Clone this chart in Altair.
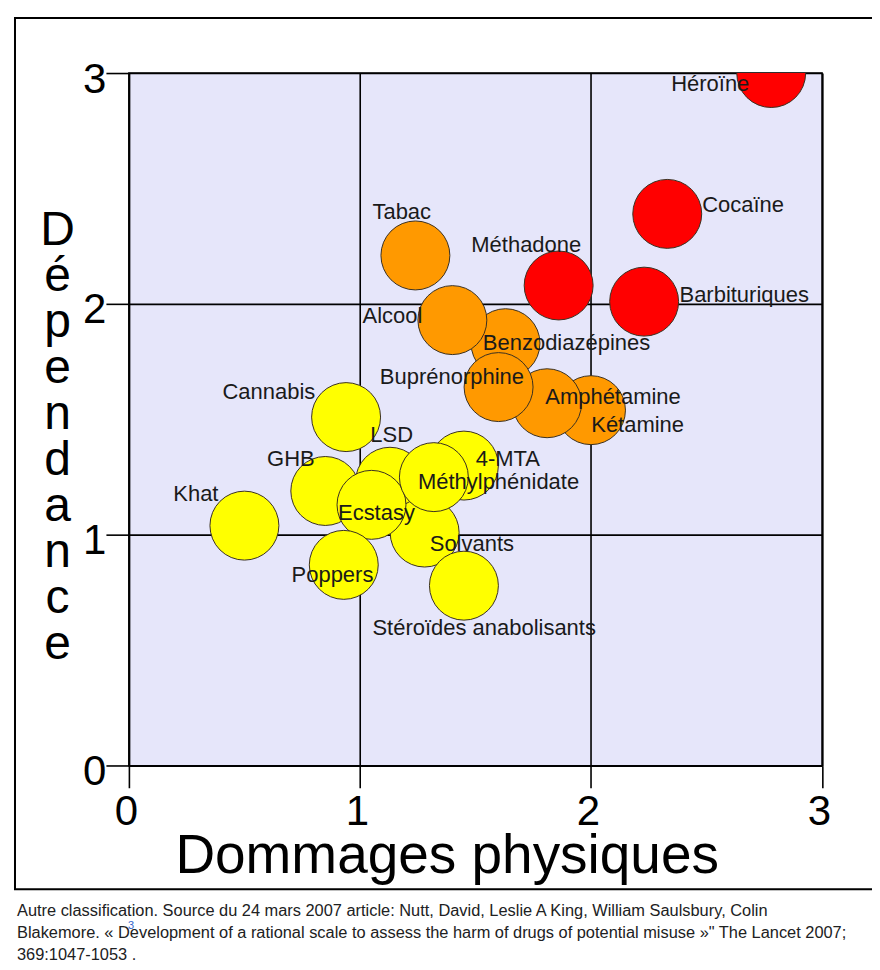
import altair as alt
import pandas as pd

# ---- data ----
drogues = ["Kétamine", "Amphétamine", "Benzodiazépines", "Buprénorphine", "Alcool",
           "Tabac", "Méthadone", "Barbituriques", "Cocaïne", "Héroïne",
           "Cannabis", "Khat", "GHB", "LSD", "4-MTA",
           "Solvants", "Ecstasy", "Méthylphénidate", "Poppers", "Stéroïdes anabolisants"]
dommages = [2.00, 1.81, 1.63, 1.60, 1.40,
            1.24, 1.86, 2.23, 2.33, 2.78,
            0.94, 0.50, 0.85, 1.13, 1.45,
            1.28, 1.05, 1.32, 0.93, 1.45]
dependance = [1.54, 1.57, 1.83, 1.64, 1.93,
              2.21, 2.08, 2.01, 2.39, 3.00,
              1.51, 1.04, 1.19, 1.23, 1.30,
              1.01, 1.13, 1.25, 0.87, 0.78]
groupes = ["orange", "orange", "orange", "orange", "orange",
           "orange", "rouge", "rouge", "rouge", "rouge",
           "jaune", "jaune", "jaune", "jaune", "jaune",
           "jaune", "jaune", "jaune", "jaune", "jaune"]
# label anchor (left end of text, baseline) in data units
label_x = [2.001, 1.802, 1.532, 1.086, 1.011,
           1.054, 1.482, 2.383, 2.481, 2.347,
           0.405, 0.192, 0.598, 1.045, 1.501,
           1.302, 0.905, 1.251, 0.704, 1.054]
label_y = [1.447, 1.566, 1.800, 1.653, 1.918,
           2.370, 2.225, 2.009, 2.399, 2.922,
           1.587, 1.148, 1.298, 1.403, 1.298,
           0.932, 1.064, 1.197, 0.797, 0.567]
ticks = [0, 1, 2, 3]
caption = [
    "Autre classification. Source du 24 mars 2007 article: Nutt, David, Leslie A King, William Saulsbury, Colin",
    "Blakemore. « Development of a rational scale to assess the harm of drugs of potential misuse »\" The Lancet 2007;",
    "369:1047-1053   .",
]
note_ref = "3"
y_title = list("Dépendance")

df = pd.DataFrame({
    "drogue": drogues, "dommages": dommages, "dependance": dependance,
    "groupe": groupes, "lx": label_x, "ly": label_y,
})

FONT = "Liberation Sans"
W, H = 693.7, 693.3

xscale = alt.Scale(domain=[0, 3], nice=False, zero=False)
yscale = alt.Scale(domain=[0, 3], nice=False, zero=False)

common_axis = dict(
    values=ticks, format="d", grid=True, gridColor="black", gridWidth=1.6,
    domainColor="black", domainWidth=1.6, tickColor="black", tickWidth=1.6,
    labelFont=FONT, labelFontSize=42, labelColor="black",
    labelFlush=False, labelOverlap=False,
    titleFont=FONT, titleFontWeight="normal", titleColor="black",
)

x_axis = alt.Axis(
    **common_axis, tickSize=22, labelPadding=4, labelOffset=-3,
    title="Dommages physiques", titleFontSize=55,
    titleX=318, titleY=107, titleBaseline="alphabetic", titleAlign="center",
)
y_axis = alt.Axis(
    **common_axis, tickSize=23, labelPadding=0, labelBaseline="alphabetic", labelOffset=19,
    title=y_title, titleFontSize=48, titleLineHeight=46, titleAngle=0,
    titleX=-72, titleY=172, titleBaseline="alphabetic", titleAlign="center",
)

one = pd.DataFrame({"k": [0]})

points = alt.Chart(df).mark_circle(
    size=4761, opacity=1, stroke="#3a3020", strokeWidth=1, clip=True
).encode(
    x=alt.X("dommages:Q", scale=xscale, axis=x_axis),
    y=alt.Y("dependance:Q", scale=yscale, axis=y_axis),
    color=alt.Color("groupe:N",
                    scale=alt.Scale(domain=["rouge", "orange", "jaune"],
                                    range=["#ff0000", "#ff9900", "#ffff00"]),
                    legend=None),
)

labels = alt.Chart(df).mark_text(
    align="left", baseline="alphabetic", font=FONT, fontSize=22, color="#1a1a1a"
).encode(
    x=alt.X("lx:Q", scale=xscale, axis=x_axis),
    y=alt.Y("ly:Q", scale=yscale, axis=y_axis),
    text="drogue:N",
)

frame = alt.Chart(one).mark_rect(
    fillOpacity=0, stroke="black", strokeWidth=2, clip=False
).encode(
    x=alt.value(-114), x2=alt.value(770), y=alt.value(-55), y2=alt.value(817)
)

cap = alt.Chart(one).mark_text(
    align="left", baseline="alphabetic", font=FONT, fontSize=16.4, lineHeight=22,
    color="#202122", clip=False
).encode(
    x=alt.value(-112), y=alt.value(844), text=alt.value(caption)
)

ref = alt.Chart(one).mark_text(
    align="left", baseline="alphabetic", font=FONT, fontSize=11,
    color="#3366cc", clip=False
).encode(
    x=alt.value(-1), y=alt.value(857), text=alt.value(note_ref)
)

chart = alt.layer(points, labels, frame, cap, ref).properties(
    width=W, height=H,
    padding={"left": 121, "top": 64.7, "right": 50, "bottom": 196},
    autosize=alt.AutoSizeParams(type="none"),
    background="white",
).configure_view(
    fill="#e6e6fa", stroke="black", strokeWidth=1.6
)

chart.save("out.html", embed_options={"renderer": "svg", "actions": False})
